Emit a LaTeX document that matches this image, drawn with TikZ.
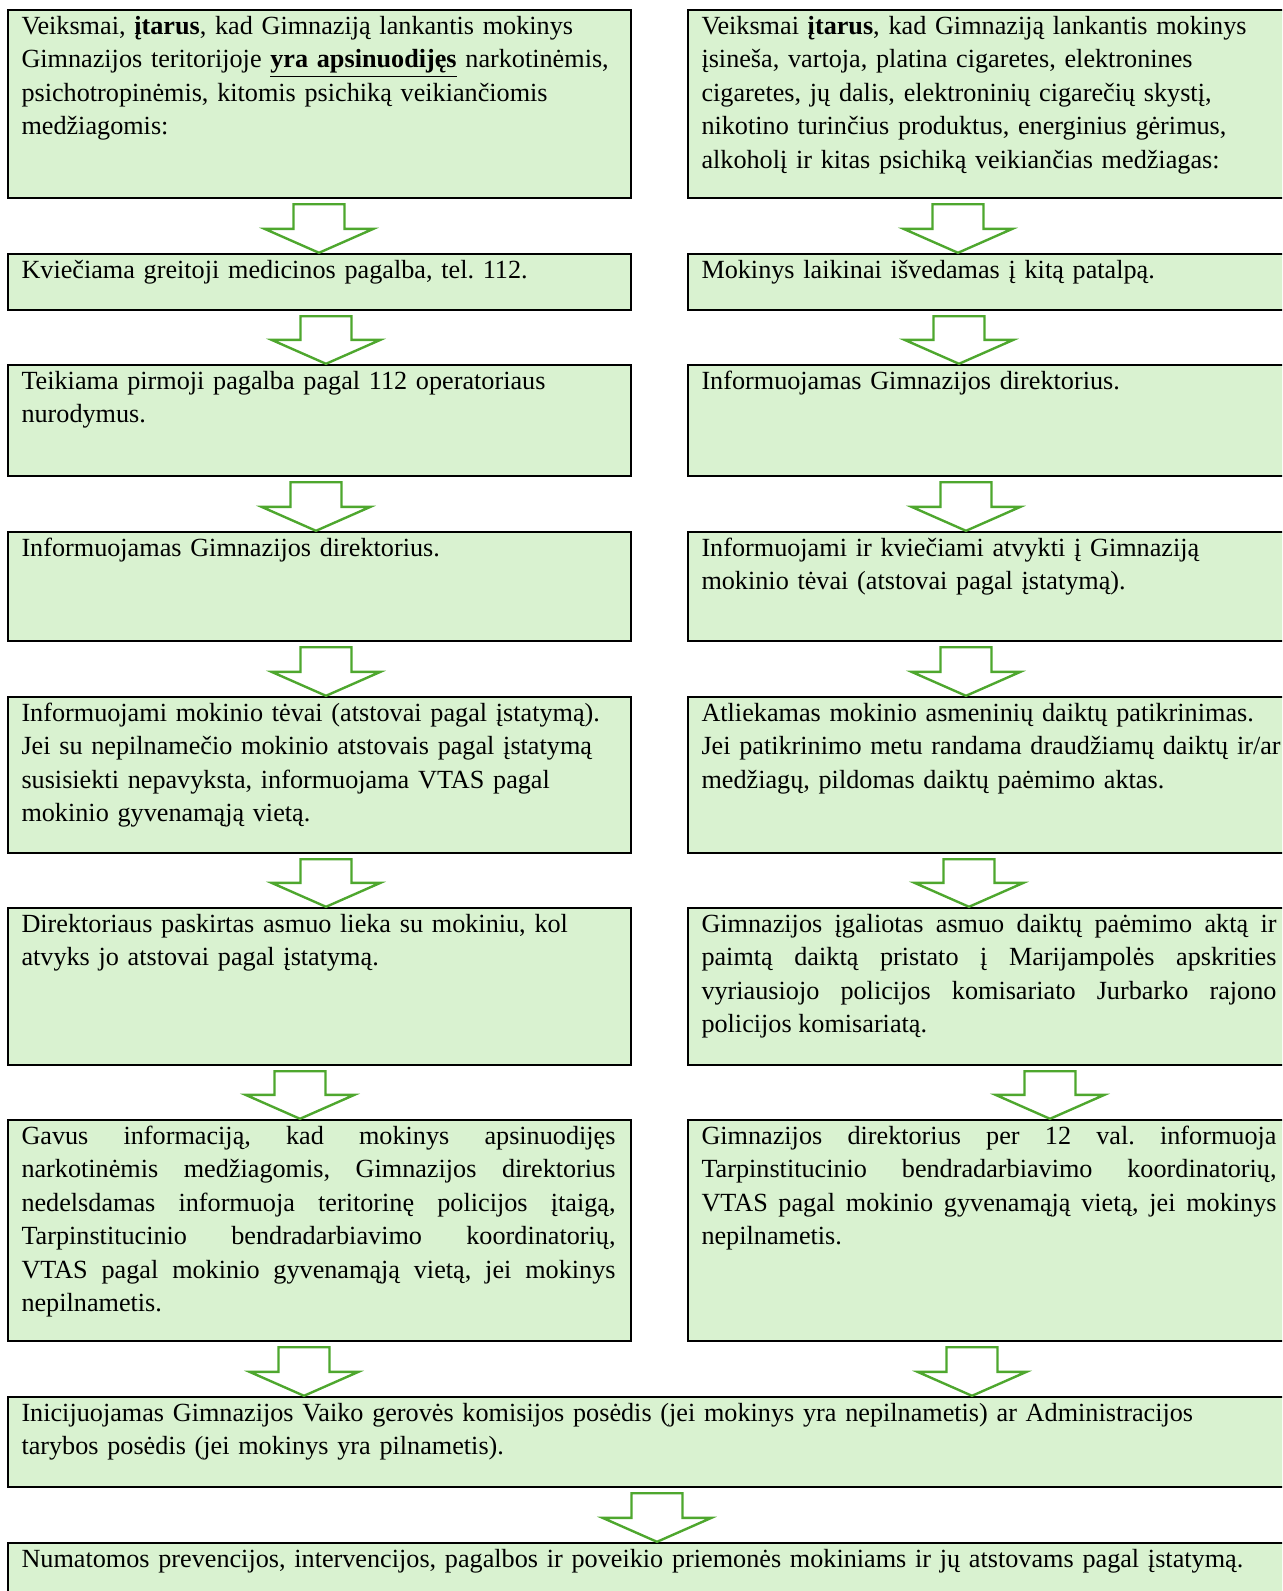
\documentclass[tikz,border=0pt]{standalone}
\usepackage{fontspec}
\setmainfont{Liberation Serif}
\usetikzlibrary{fit,calc}
\frenchspacing
\definecolor{boxfill}{HTML}{D9F2D0}
\definecolor{arrgreen}{HTML}{4EA72E}
\tikzset{
  box/.style={draw=black, line width=1.2pt, fill=boxfill, inner sep=0pt, rectangle},
  txt/.style={anchor=north west, inner sep=0pt, font=\fontsize{13.1}{16.75}\selectfont},
  ltxt/.style={txt, text width=300pt, align=left},
  ljust/.style={txt, text width=297pt, align=justify},
  rtxt/.style={txt, text width=300pt, align=left},
  rjust/.style={txt, text width=287.5pt, align=justify},
  btxt/.style={txt, text width=620pt, align=left},
  garrow/.style={draw=arrgreen, line width=1.2pt, fill=white, line join=miter},
}
\newcommand{\garrow}[3]{%
  \draw[garrow] let \p1=(#3,0 |- #1.south), \p2=(#3,0 |- #2.north) in
    (\x1-12.75pt,\y1-2.5pt) -- (\x1+12.75pt,\y1-2.5pt) -- (\x1+12.75pt,\y2+12pt)
    -- (\x1+27.25pt,\y2+12pt) -- (\x2,\y2) -- (\x1-27.25pt,\y2+12pt)
    -- (\x1-12.75pt,\y2+12pt) -- cycle;}
\begin{document}
\begin{tikzpicture}[x=0.5pt,y=-0.5pt]
\useasboundingbox (0,0) rectangle (1282,1591);
\clip (0,0) rectangle (1282,1591);
% left column
\node[box, fit={(8,10) (631,198)}] (L1) {};
\node[box, fit={(8,254) (631,310)}] (L2) {};
\node[box, fit={(8,365) (631,476)}] (L3) {};
\node[box, fit={(8,532) (631,641)}] (L4) {};
\node[box, fit={(8,697) (631,853)}] (L5) {};
\node[box, fit={(8,908) (631,1065)}] (L6) {};
\node[box, fit={(8,1120) (631,1341)}] (L7) {};
% right column
\node[box, fit={(688,10) (1300,198)}] (R1) {};
\node[box, fit={(688,254) (1300,310)}] (R2) {};
\node[box, fit={(688,365) (1300,476)}] (R3) {};
\node[box, fit={(688,532) (1300,641)}] (R4) {};
\node[box, fit={(688,697) (1300,853)}] (R5) {};
\node[box, fit={(688,908) (1300,1065)}] (R6) {};
\node[box, fit={(688,1120) (1300,1341)}] (R7) {};
% bottom
\node[box, fit={(8,1397) (1300,1487)}] (B1) {};
\node[box, fit={(8,1543) (1300,1640)}] (B2) {};

% texts
\node[ltxt] (L1t) at ($(L1.north west)+(14.3,1.5)$) {\strut Veiksmai, \textbf{įtarus}, kad Gimnaziją lankantis mokinys\\ Gimnazijos teritorijoje \underline{\textbf{yra apsinuodijęs}} narkotinėmis,\\ psichotropinėmis, kitomis psichiką veikiančiomis\\ medžiagomis:};
\node[ltxt] (L2t) at ($(L2.north west)+(14.3,1.5)$) {\strut Kviečiama greitoji medicinos pagalba, tel. 112.};
\node[ltxt] (L3t) at ($(L3.north west)+(14.3,1.5)$) {\strut Teikiama pirmoji pagalba pagal 112 operatoriaus\\ nurodymus.};
\node[ltxt] (L4t) at ($(L4.north west)+(14.3,1.5)$) {\strut Informuojamas Gimnazijos direktorius.};
\node[ltxt] (L5t) at ($(L5.north west)+(14.3,1.5)$) {\strut Informuojami mokinio tėvai (atstovai pagal įstatymą).\\ Jei su nepilnamečio mokinio atstovais pagal įstatymą\\ susisiekti nepavyksta, informuojama VTAS pagal\\ mokinio gyvenamąją vietą.};
\node[ltxt] (L6t) at ($(L6.north west)+(14.3,1.5)$) {\strut Direktoriaus paskirtas asmuo lieka su mokiniu, kol\\ atvyks jo atstovai pagal įstatymą.};
\node[ljust] (L7t) at ($(L7.north west)+(14.3,1.5)$) {\strut Gavus informaciją, kad mokinys apsinuodijęs\linebreak narkotinėmis medžiagomis, Gimnazijos direktorius\linebreak nedelsdamas informuoja teritorinę policijos įtaigą,\linebreak Tarpinstitucinio bendradarbiavimo koordinatorių,\linebreak VTAS pagal mokinio gyvenamąją vietą, jei mokinys\linebreak nepilnametis.};

\node[rtxt] (R1t) at ($(R1.north west)+(14.3,1.5)$) {\strut Veiksmai \textbf{įtarus}, kad Gimnaziją lankantis mokinys\\ įsineša, vartoja, platina cigaretes, elektronines\\ cigaretes, jų dalis, elektroninių cigarečių skystį,\\ nikotino turinčius produktus, energinius gėrimus,\\ alkoholį ir kitas psichiką veikiančias medžiagas:};
\node[rtxt] (R2t) at ($(R2.north west)+(14.3,1.5)$) {\strut Mokinys laikinai išvedamas į kitą patalpą.};
\node[rtxt] (R3t) at ($(R3.north west)+(14.3,1.5)$) {\strut Informuojamas Gimnazijos direktorius.};
\node[rtxt] (R4t) at ($(R4.north west)+(14.3,1.5)$) {\strut Informuojami ir kviečiami atvykti į Gimnaziją\\ mokinio tėvai (atstovai pagal įstatymą).};
\node[rtxt] (R5t) at ($(R5.north west)+(14.3,1.5)$) {\strut Atliekamas mokinio asmeninių daiktų patikrinimas.\\ Jei patikrinimo metu randama draudžiamų daiktų ir/ar\\ medžiagų, pildomas daiktų paėmimo aktas.};
\node[rjust] (R6t) at ($(R6.north west)+(14.3,1.5)$) {\strut Gimnazijos įgaliotas asmuo daiktų paėmimo aktą ir\linebreak paimtą daiktą pristato į Marijampolės apskrities\linebreak vyriausiojo policijos komisariato Jurbarko rajono\linebreak policijos komisariatą.};
\node[rjust] (R7t) at ($(R7.north west)+(14.3,1.5)$) {\strut Gimnazijos direktorius per 12 val. informuoja\linebreak Tarpinstitucinio bendradarbiavimo koordinatorių,\linebreak VTAS pagal mokinio gyvenamąją vietą, jei mokinys\linebreak nepilnametis.};

\node[btxt] (B1t) at ($(B1.north west)+(14.3,1.5)$) {\strut Inicijuojamas Gimnazijos Vaiko gerovės komisijos posėdis (jei mokinys yra nepilnametis) ar Administracijos\\ tarybos posėdis (jei mokinys yra pilnametis).};
\node[btxt] (B2t) at ($(B2.north west)+(14.3,1.5)$) {\strut Numatomos prevencijos, intervencijos, pagalbos ir poveikio priemonės mokiniams ir jų atstovams pagal įstatymą.};

% arrows
\garrow{L1}{L2}{319}
\garrow{L2}{L3}{326}
\garrow{L3}{L4}{316}
\garrow{L4}{L5}{326}
\garrow{L5}{L6}{326}
\garrow{L6}{L7}{300}
\garrow{L7}{B1}{304}
\garrow{R1}{R2}{958}
\garrow{R2}{R3}{959}
\garrow{R3}{R4}{966}
\garrow{R4}{R5}{966}
\garrow{R5}{R6}{969}
\garrow{R6}{R7}{1050}
\garrow{R7}{B1}{972}
\garrow{B1}{B2}{657}
\end{tikzpicture}
\end{document}
